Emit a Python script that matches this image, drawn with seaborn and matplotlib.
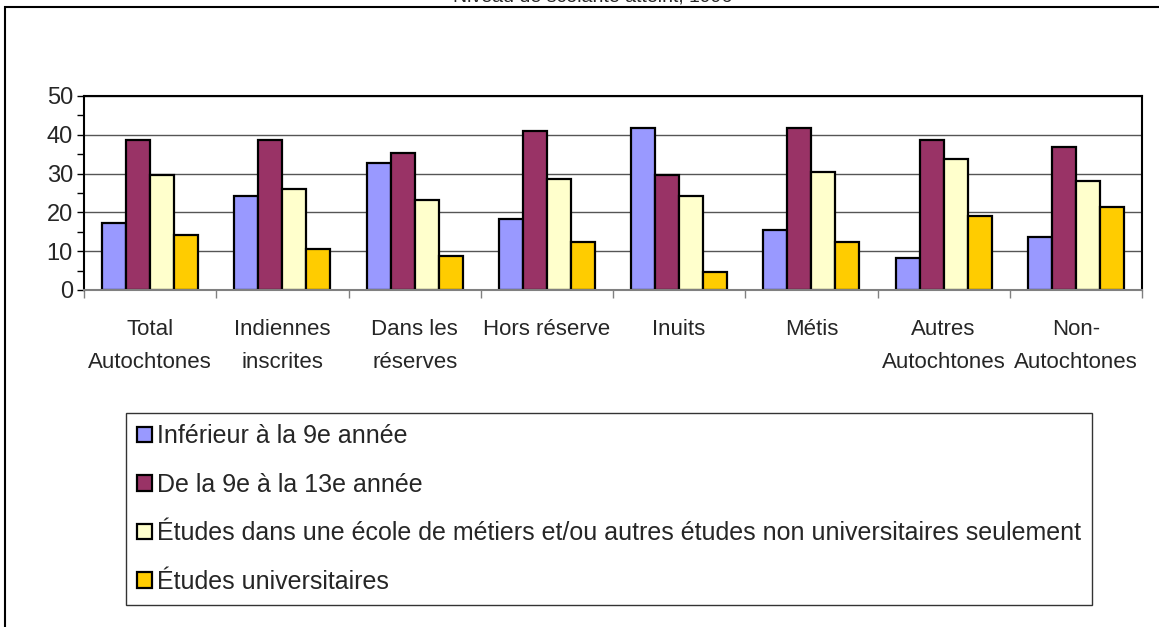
import pandas as pd
import matplotlib
matplotlib.use("Agg")
import matplotlib.pyplot as plt
import seaborn as sns
from matplotlib.patches import Rectangle
from matplotlib.ticker import MultipleLocator, FixedLocator

# Chart data (percent of population by highest level of schooling)
groups = ["Total\nAutochtones", "Indiennes\ninscrites", "Dans les\nréserves", "Hors réserve",
          "Inuits", "Métis", "Autres\nAutochtones", "Non-\nAutochtones"]
levels = ["Inférieur à la 9e année",
          "De la 9e à la 13e année",
          "Études dans une école de métiers et/ou autres études non universitaires seulement",
          "Études universitaires"]
below_9 = [17.2, 24.3, 32.8, 18.4, 41.7, 15.4, 8.2, 13.6]
grade_9_13 = [38.6, 38.6, 35.2, 41.0, 29.7, 41.7, 38.6, 36.9]
trades = [29.6, 26.1, 23.1, 28.6, 24.3, 30.4, 33.8, 28.0]
university = [14.2, 10.5, 8.7, 12.3, 4.6, 12.3, 19.0, 21.3]
colors = ["#9999FF", "#993366", "#FFFFCC", "#FFCC00"]
title = "Niveau de scolarité atteint, 1996"

def main():
    series = [below_9, grade_9_13, trades, university]
    rows = []
    for level, vals in zip(levels, series):
        for g, v in zip(groups, vals):
            rows.append({"groupe": g, "niveau": level, "pct": v})
    df = pd.DataFrame(rows)

    sns.set_theme(style="white")
    plt.rcParams["font.family"] = ["Liberation Sans", "DejaVu Sans"]

    fig = plt.figure(figsize=(11.59, 6.27), dpi=100)
    ax = fig.add_axes([84 / 1159, 1 - 290 / 627, 1058 / 1159, 194 / 627])

    sns.barplot(data=df, x="groupe", y="pct", hue="niveau", order=groups, hue_order=levels,
                palette=colors, width=0.727, gap=0, edgecolor="black", linewidth=1.6,
                saturation=1, ax=ax, legend=True)

    ax.set_xlim(-0.5, len(groups) - 0.5)
    ax.set_ylim(0, 50)
    ax.set_xlabel("")
    ax.set_ylabel("")
    ax.yaxis.set_major_locator(MultipleLocator(10))
    ax.yaxis.set_minor_locator(MultipleLocator(5))
    ax.tick_params(axis="y", which="both", direction="out", length=5, width=1,
                   color="black", left=True, labelsize=17, pad=3)
    ax.xaxis.set_minor_locator(FixedLocator([i + 0.5 for i in range(-1, len(groups))]))
    ax.tick_params(axis="x", which="major", length=0, labelsize=16, pad=21)
    ax.tick_params(axis="x", which="minor", direction="out", length=6, width=1,
                   color="#808080", bottom=True)
    for lbl in ax.get_xticklabels():
        lbl.set_linespacing(1.75)

    ax.grid(axis="y", which="major", color="#555555", linewidth=1)
    ax.set_axisbelow(True)
    for side in ["top", "right", "left"]:
        ax.spines[side].set_visible(True)
        ax.spines[side].set_color("black")
        ax.spines[side].set_linewidth(1.5)
    ax.spines["bottom"].set_color("#808080")
    ax.spines["bottom"].set_linewidth(1.5)

    handles, labels = ax.get_legend_handles_labels()
    ax.get_legend().remove()
    leg = fig.legend(handles, labels, loc="upper left",
                     bbox_to_anchor=(126 / 1159, 1 - 413 / 627),
                     frameon=True, fancybox=False, fontsize=18, labelspacing=0.98,
                     handlelength=0.58, handleheight=0.58, handletextpad=0.2,
                     borderpad=0.45, borderaxespad=0)
    leg.get_frame().set_edgecolor("black")
    leg.get_frame().set_linewidth(1)

    # outer chart frame and clipped title
    fig.patches.append(Rectangle((5 / 1159, -0.05), 1.2, 1 - 7 / 627 + 0.05,
                                 transform=fig.transFigure, fill=False,
                                 edgecolor="black", linewidth=1.5))
    fig.text(0.511, 1 - 2 / 627, title, ha="center", va="baseline", fontsize=14)

    fig.savefig("out.png", dpi=100)
    plt.close(fig)

if __name__ == "__main__":
    main()
